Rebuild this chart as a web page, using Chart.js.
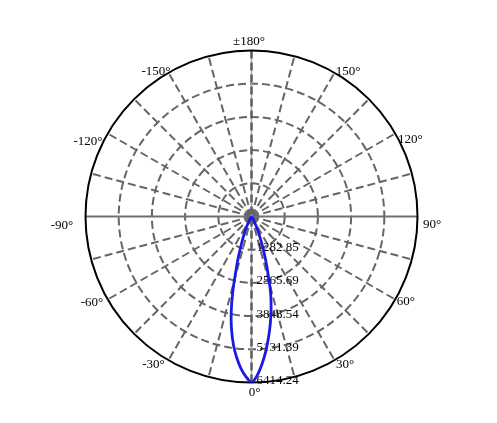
<!DOCTYPE html>
<html>
<head>
<meta charset="utf-8">
<script src="https://cdn.jsdelivr.net/npm/chart.js@4"></script>
<style>
  body { margin: 0; background: #fff; }
</style>
</head>
<body>
<canvas id="polar" width="497" height="423"></canvas>
<script>
// Datos de la curva fotométrica (cd)
const angles = [-180, -90, -50, -40, -35, -30, -28, -26, -24, -22, -20, -18, -16, -14, -12, -10, -8, -6, -4, -2,
  0, 2, 4, 6, 8, 10, 12, 14, 16, 18, 20, 22, 24, 26, 28, 30, 35, 40, 50, 90, 180];
const intensity = [0, 0, 5, 15, 45, 130, 220, 370, 580, 840, 1150, 1630, 2200, 2990, 3770, 4440, 5010, 5480, 5880, 6190,
  6414.24, 6150, 5730, 5250, 4720, 4190, 3640, 3060, 2340, 1760, 1290, 900, 620, 390, 230, 130, 40, 15, 5, 0, 0];

const ringValues = [1282.85, 2565.69, 3848.54, 5131.39, 6414.24];
const ringLabels = ['1282.85', '2565.69', '3848.54', '5131.39', '6414.24'];
const angleTicks = [180, -150, 150, -120, 120, -90, 90, -60, 60, -30, 30, 0];
const angleTickLabels = ['±180°', '-150°', '150°', '-120°', '120°', '-90°', '90°', '-60°', '60°', '-30°', '30°', '0°'];

const MAX = ringValues[ringValues.length - 1];
const rad = d => d * Math.PI / 180;

// ajuste fino de las etiquetas de ángulo respecto al círculo exterior
const labelNudge = {
  '180': [-2.5, -8.5], '-150': [-12.5, -1], '150': [13.5, -0.7],
  '-120': [-19.7, 8.2], '120': [15.2, 6.5], '-90': [-23.5, 9.5], '90': [14.5, 8.5],
  '-60': [-15.7, 3.5], '60': [10.7, 2.5], '-30': [-15, 4.7], '30': [10.5, 4.7], '0': [3, 10.5]
};

const polarGrid = {
  id: 'polarGrid',
  beforeDatasetsDraw(chart) {
    const ctx = chart.ctx;
    const sx = chart.scales.x, sy = chart.scales.y;
    const cx = sx.getPixelForValue(0), cy = sy.getPixelForValue(0);
    const R = sx.getPixelForValue(MAX) - cx;
    ctx.save();

    // círculos punteados
    ctx.strokeStyle = '#656565';
    ctx.lineWidth = 2;
    ctx.setLineDash([8, 4]);
    ringValues.slice(0, -1).forEach(v => {
      const r = sx.getPixelForValue(v) - cx;
      ctx.beginPath();
      ctx.arc(cx, cy, r, 0, Math.PI * 2);
      ctx.stroke();
    });

    // radios cada 15°
    for (let a = -165; a <= 180; a += 15) {
      if (a % 90 === 0) continue;
      ctx.beginPath();
      ctx.moveTo(cx, cy);
      ctx.lineTo(cx + R * Math.sin(rad(a)), cy + R * Math.cos(rad(a)));
      ctx.stroke();
    }

    // ejes principales
    ctx.setLineDash([]);
    ctx.strokeStyle = '#707070';
    ctx.beginPath();
    ctx.moveTo(cx - R, cy); ctx.lineTo(cx + R, cy);
    ctx.stroke();
    ctx.strokeStyle = '#aaa';
    ctx.lineWidth = 1.5;
    ctx.beginPath();
    ctx.moveTo(cx, cy - R); ctx.lineTo(cx, cy + R);
    ctx.stroke();
    ctx.strokeStyle = '#606060';
    ctx.lineWidth = 2.5;
    ctx.setLineDash([8, 4]);
    ctx.beginPath();
    ctx.moveTo(cx, cy - R); ctx.lineTo(cx, cy + R);
    ctx.stroke();

    // círculo exterior
    ctx.setLineDash([]);
    ctx.strokeStyle = '#000';
    ctx.lineWidth = 2;
    ctx.beginPath();
    ctx.arc(cx, cy, R, 0, Math.PI * 2);
    ctx.stroke();

    // textos
    ctx.fillStyle = '#000';
    ctx.font = '13px "Liberation Serif", "Times New Roman", serif';
    ctx.textBaseline = 'middle';
    ctx.textAlign = 'left';
    ringValues.forEach((v, i) => {
      const r = sx.getPixelForValue(v) - cx;
      ctx.fillText(ringLabels[i], cx + 5, cy + r - 2);
    });
    ctx.textAlign = 'center';
    angleTicks.forEach((a, i) => {
      const n = labelNudge[String(a)];
      const px = cx + R * Math.sin(rad(a)) + n[0];
      const py = cy + R * Math.cos(rad(a)) + n[1];
      ctx.fillText(angleTickLabels[i], px, py);
    });
    ctx.restore();
  }
};

const points = angles.map((a, i) => ({
  x: intensity[i] * Math.sin(rad(a)),
  y: -intensity[i] * Math.cos(rad(a))
}));

const config = {
  type: 'scatter',
  data: {
    datasets: [{
      label: 'C0-C180',
      data: points,
      showLine: true,
      borderColor: '#1a1ae6',
      borderWidth: 2.8,
      pointRadius: 0,
      tension: 0.3,
      fill: false
    }]
  },
  options: {
    responsive: false,
    animation: false,
    layout: { padding: { left: 85.5, right: 79.5, top: 50.5, bottom: 40.5 } },
    scales: {
      x: { type: 'linear', display: false, min: -MAX, max: MAX },
      y: { type: 'linear', display: false, min: -MAX, max: MAX }
    },
    plugins: {
      legend: { display: false },
      tooltip: { enabled: false }
    }
  },
  plugins: [polarGrid]
};

// Crear el gráfico
var polarChart = new Chart(document.getElementById('polar'), config);
</script>
</body>
</html>
